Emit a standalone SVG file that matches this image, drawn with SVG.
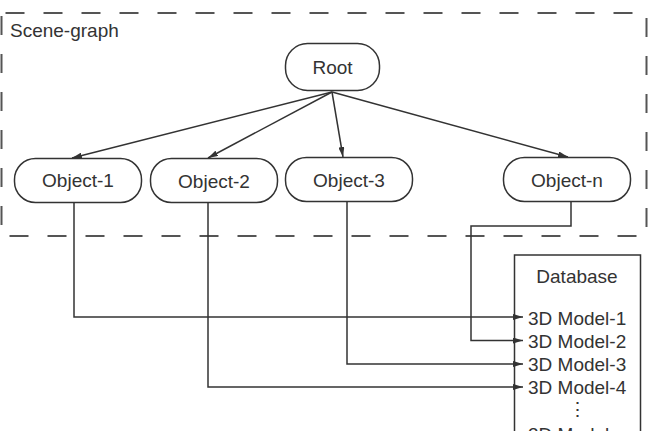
<svg xmlns="http://www.w3.org/2000/svg" width="652" height="431" viewBox="0 0 652 431">
<style>
text{font-family:"Liberation Sans",Arial,sans-serif;font-size:19px;fill:#333}
.node{fill:#fff;stroke:#333;stroke-width:1.5}
.c{fill:none;stroke:#333;stroke-width:1.5}
.mid{text-anchor:middle}
</style>
<defs>
<marker id="ah" viewBox="0 0 10 6" refX="10" refY="3" markerWidth="10" markerHeight="6" markerUnits="userSpaceOnUse" orient="auto">
<path d="M0,0 L10,3 L0,6 Z" fill="#333"/>
</marker>
</defs>
<rect width="652" height="431" fill="#fff"/>
<g id="scene-graph">
<rect x="1.5" y="13" width="645" height="223" fill="none" stroke="#555" stroke-width="2" stroke-dasharray="19 19" stroke-dashoffset="-4"/>
<text x="10" y="37">Scene-graph</text>
</g>
<g id="database">
<rect x="514.5" y="255" width="126" height="200" class="node"/>
<text x="577" y="283" class="mid">Database</text>
<text x="528" y="325">3D Model-1</text>
<text x="528" y="348">3D Model-2</text>
<text x="528" y="371">3D Model-3</text>
<text x="528" y="394">3D Model-4</text>
<text x="577" y="416" class="mid">⋮</text>
<text x="528" y="441">3D Model-n</text>
</g>
<g id="connectors">
<path class="c" d="M332,92 L72,158" marker-end="url(#ah)"/>
<path class="c" d="M332,92 L208,158" marker-end="url(#ah)"/>
<path class="c" d="M332,92 L343,157" marker-end="url(#ah)"/>
<path class="c" d="M332,92 L568,157" marker-end="url(#ah)"/>
<path class="c" d="M74,202 V317 H523" marker-end="url(#ah)"/>
<path class="c" d="M571,202 V226 H471 V340.5 H523" marker-end="url(#ah)"/>
<path class="c" d="M347,202 V364 H523" marker-end="url(#ah)"/>
<path class="c" d="M208,203 V387 H523" marker-end="url(#ah)"/>
</g>
<g id="root">
<rect x="285.5" y="43.5" width="94" height="47" rx="22" class="node"/>
<text x="332.5" y="74" class="mid">Root</text>
</g>
<g id="object-1">
<rect x="14.5" y="158.5" width="127" height="44" rx="21" class="node"/>
<text x="78" y="187" class="mid">Object-1</text>
</g>
<g id="object-2">
<rect x="150.5" y="158.5" width="127" height="44" rx="21" class="node"/>
<text x="214" y="188" class="mid">Object-2</text>
</g>
<g id="object-3">
<rect x="285.5" y="157.5" width="127" height="44" rx="21" class="node"/>
<text x="349" y="187" class="mid">Object-3</text>
</g>
<g id="object-n">
<rect x="503.5" y="157.5" width="127" height="44" rx="21" class="node"/>
<text x="567" y="187" class="mid">Object-n</text>
</g>
</svg>
